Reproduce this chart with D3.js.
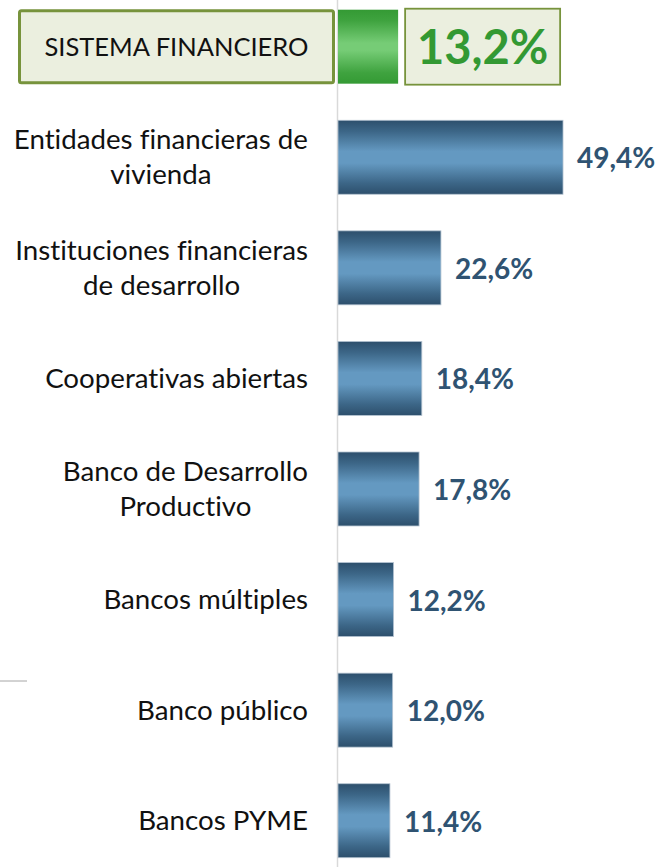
<!DOCTYPE html>
<html>
<head>
<meta charset="utf-8">
<script src="https://cdn.jsdelivr.net/npm/d3@7"></script>
<style>
  body { margin: 0; background: #ffffff; }
  svg text { font-variant-ligatures: none; }
</style>
</head>
<body>
<div id="chart"></div>
<script>
// data
const categories = [
  "SISTEMA FINANCIERO",
  "Entidades financieras de\nvivienda",
  "Instituciones financieras\nde desarrollo",
  "Cooperativas abiertas",
  "Banco de Desarrollo\nProductivo",
  "Bancos múltiples",
  "Banco público",
  "Bancos PYME",
];
const values = [13.2, 49.4, 22.6, 18.4, 17.8, 12.2, 12.0, 11.4];
const valueLabels = ["13,2%", "49,4%", "22,6%", "18,4%", "17,8%", "12,2%", "12,0%", "11,4%"];

const width = 665;
const height = 867;
const fontFamily = "Lato, 'Open Sans', sans-serif";
const labelRight = 308;
const blueText = "#2f5372";
const greenText = "#339933";
const boxFill = "#ebefdf";
const boxStroke = "#77933c";

const I = d3.range(categories.length);

// scales
const xScale = d3.scaleLinear([0, 60], [338, 338 + 60 * 4.555]);
const yScale = d3
  .scaleBand(I, [-8.6, 876])
  .paddingInner(0.331)
  .paddingOuter(0.1655);

const svg = d3
  .create("svg")
  .attr("width", width)
  .attr("height", height)
  .attr("viewBox", [0, 0, width, height])
  .attr("style", "display: block;");

// attach first so text can be measured
document.getElementById("chart").append(svg.node());

// gradients
const defs = svg.append("defs");
const blueGrad = defs
  .append("linearGradient")
  .attr("id", "blueGrad")
  .attr("x1", 0).attr("y1", 0).attr("x2", 0).attr("y2", 1);
[
  [0, "#2d4f6c"],
  [0.15, "#3c6687"],
  [0.42, "#6499c1"],
  [0.58, "#6499c1"],
  [0.85, "#3c6687"],
  [1, "#2d4f6c"],
].forEach(([o, c]) => blueGrad.append("stop").attr("offset", o).attr("stop-color", c));

const greenGrad = defs
  .append("linearGradient")
  .attr("id", "greenGrad")
  .attr("x1", 0).attr("y1", 0).attr("x2", 0).attr("y2", 1);
[
  [0, "#349a34"],
  [0.15, "#3fa33f"],
  [0.45, "#76cc76"],
  [0.55, "#76cc76"],
  [0.85, "#3fa33f"],
  [1, "#349a34"],
].forEach(([o, c]) => greenGrad.append("stop").attr("offset", o).attr("stop-color", c));

// axis line
svg
  .append("line")
  .attr("x1", xScale(0) - 0.5)
  .attr("x2", xScale(0) - 0.5)
  .attr("y1", 0)
  .attr("y2", height)
  .attr("stroke", "#d9d9d9")
  .attr("stroke-width", 1.5);

// stray gridline stub at the left
svg
  .append("line")
  .attr("x1", 0)
  .attr("x2", 27)
  .attr("y1", 681)
  .attr("y2", 681)
  .attr("stroke", "#a6a6a6")
  .attr("stroke-width", 1);

// bars
svg
  .append("g")
  .selectAll("rect")
  .data(I)
  .join("rect")
  .attr("x", xScale(0))
  .attr("y", (i) => yScale(i))
  .attr("width", (i) => xScale(values[i]) - xScale(0))
  .attr("height", yScale.bandwidth())
  .attr("fill", (i) => (i === 0 ? "url(#greenGrad)" : "url(#blueGrad)"))
  .attr("stroke", (i) => (i === 0 ? "none" : "#b4c3d1"))
  .attr("stroke-width", 0.8);

// total row: label box and value box
const y0 = yScale(0);
const bw = yScale.bandwidth();
svg
  .append("rect")
  .attr("x", 19.5)
  .attr("y", y0 + 1)
  .attr("width", 314)
  .attr("height", bw - 2)
  .attr("rx", 2)
  .attr("fill", boxFill)
  .attr("stroke", boxStroke)
  .attr("stroke-width", 3);

svg
  .append("text")
  .attr("x", (19.5 + 333.5) / 2)
  .attr("y", y0 + bw / 2 + 9)
  .attr("text-anchor", "middle")
  .attr("font-family", fontFamily)
  .attr("font-size", 25.5)
  .attr("fill", "#111111")
  .text(categories[0]);

const boxX = xScale(values[0]) + 7;
svg
  .append("rect")
  .attr("x", boxX)
  .attr("y", y0 - 1)
  .attr("width", 155)
  .attr("height", bw + 2)
  .attr("fill", boxFill)
  .attr("stroke", boxStroke)
  .attr("stroke-width", 1.8);

svg
  .append("text")
  .attr("x", boxX + 155 / 2)
  .attr("y", y0 + bw / 2 + 17)
  .attr("text-anchor", "middle")
  .attr("font-family", fontFamily)
  .attr("font-size", 47)
  .attr("font-weight", 700)
  .attr("fill", greenText)
  .text(valueLabels[0]);

// category labels (right aligned block, lines centred inside it)
const rows = I.slice(1);
svg
  .append("g")
  .selectAll("text")
  .data(rows)
  .join("text")
  .attr("font-family", fontFamily)
  .attr("font-size", 27.7)
  .attr("fill", "#111111")
  .attr("text-anchor", "middle")
  .each(function (i) {
    const lines = categories[i].split("\n");
    const text = d3.select(this);
    const cy = yScale(i) + yScale.bandwidth() / 2;
    const tspans = lines.map((line, k) =>
      text
        .append("tspan")
        .attr("y", cy + 9.5 + (k - (lines.length - 1) / 2) * 35)
        .text(line)
    );
    const maxW = d3.max(tspans, (t) => t.node().getComputedTextLength());
    tspans.forEach((t) => t.attr("x", labelRight - maxW / 2));
  });

// value labels
svg
  .append("g")
  .selectAll("text")
  .data(rows)
  .join("text")
  .attr("x", (i) => xScale(values[i]) + 14)
  .attr("y", (i) => yScale(i) + yScale.bandwidth() / 2 + 11)
  .attr("font-family", fontFamily)
  .attr("font-size", 28)
  .attr("font-weight", 700)
  .attr("fill", blueText)
  .text((i) => valueLabels[i]);
</script>
</body>
</html>
